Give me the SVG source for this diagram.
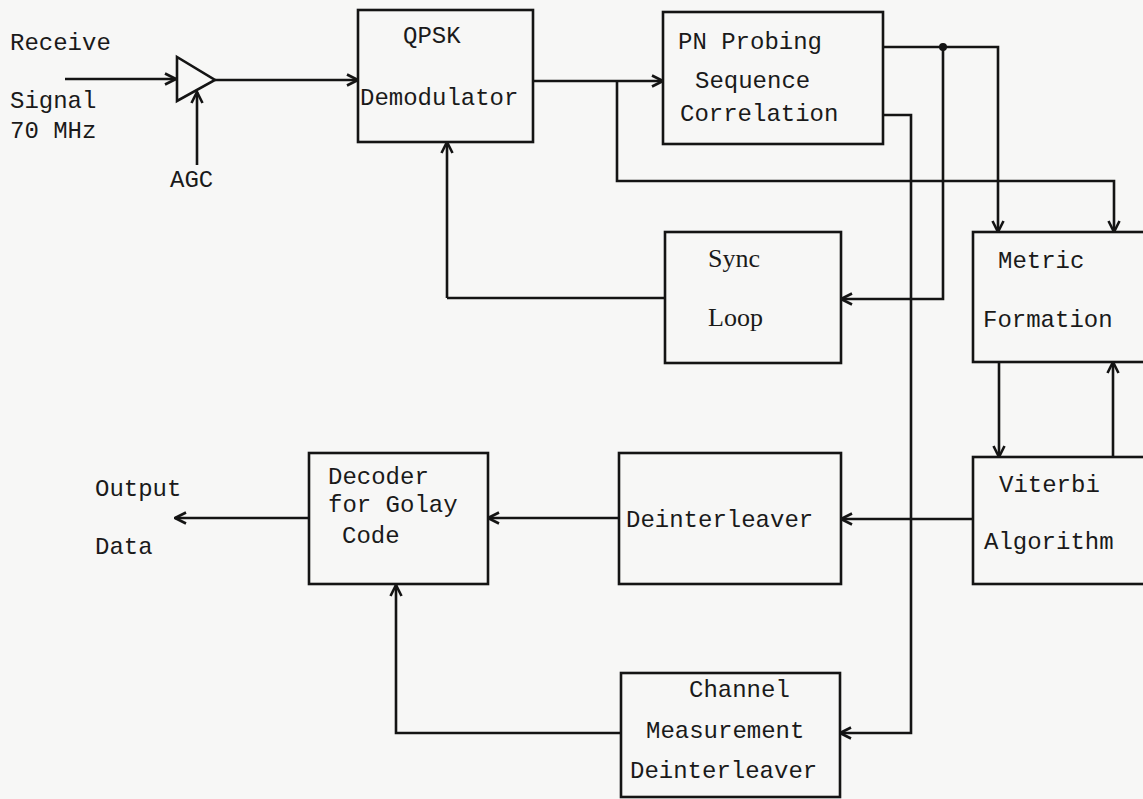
<svg xmlns="http://www.w3.org/2000/svg" width="1143" height="799" viewBox="0 0 1143 799">
<style>
.box{fill:none;stroke:#141414;stroke-width:2.6}
.ln{fill:none;stroke:#141414;stroke-width:2.6;stroke-linejoin:miter}
.t{font-family:"Liberation Mono","Courier New",monospace;font-size:24px;fill:#1a1a1a}
.s{font-family:"Liberation Serif","Times New Roman",serif;font-size:26px;fill:#1a1a1a}
</style>
<defs>
<marker id="arr" viewBox="0 0 14 14" refX="13" refY="7" markerWidth="14" markerHeight="14" orient="auto" markerUnits="userSpaceOnUse">
<path d="M2,1.5 L13,7 L2,12.5" fill="none" stroke="#141414" stroke-width="2.6"/>
</marker>
</defs>
<rect x="0" y="0" width="1143" height="799" fill="#f7f7f6"/>

<g id="labels">
<text class="t" x="10" y="50">Receive</text>
<text class="t" x="10" y="108">Signal</text>
<text class="t" x="10" y="138">70 MHz</text>
<text class="t" x="170" y="187">AGC</text>
<text class="t" x="95" y="496">Output</text>
<text class="t" x="95" y="554">Data</text>
</g>

<g id="amplifier">
<polygon points="177,57 177,101 215,80" class="box"/>
</g>

<g id="qpsk">
<rect class="box" x="358" y="10" width="175" height="132"/>
<text class="t" x="403" y="43">QPSK</text>
<text class="t" x="360" y="105">Demodulator</text>
</g>

<g id="pn">
<rect class="box" x="663" y="12" width="220" height="132"/>
<text class="t" x="678" y="49">PN Probing</text>
<text class="t" x="695" y="88">Sequence</text>
<text class="t" x="680" y="121">Correlation</text>
</g>

<g id="sync">
<rect class="box" x="665" y="232" width="176" height="131"/>
<text class="s" x="708" y="267">Sync</text>
<text class="s" x="708" y="326">Loop</text>
</g>

<g id="metric">
<rect class="box" x="973" y="232" width="190" height="130"/>
<text class="t" x="998" y="268">Metric</text>
<text class="t" x="983" y="327">Formation</text>
</g>

<g id="viterbi">
<rect class="box" x="973" y="457" width="190" height="127"/>
<text class="t" x="999" y="492">Viterbi</text>
<text class="t" x="984" y="549">Algorithm</text>
</g>

<g id="deinterleaver">
<rect class="box" x="619" y="453" width="222" height="131"/>
<text class="t" x="626" y="527">Deinterleaver</text>
</g>

<g id="decoder">
<rect class="box" x="309" y="453" width="179" height="131"/>
<text class="t" x="328" y="484">Decoder</text>
<text class="t" x="328" y="512">for Golay</text>
<text class="t" x="342" y="543">Code</text>
</g>

<g id="channel">
<rect class="box" x="621" y="673" width="219" height="124"/>
<text class="t" x="689" y="697">Channel</text>
<text class="t" x="646" y="738">Measurement</text>
<text class="t" x="630" y="778">Deinterleaver</text>
</g>

<g id="connectors">
<path class="ln" d="M65,79 H176" marker-end="url(#arr)"/>
<path class="ln" d="M215,80 H358" marker-end="url(#arr)"/>
<path class="ln" d="M197,165 V92" marker-end="url(#arr)"/>
<path class="ln" d="M533,81 H663" marker-end="url(#arr)"/>
<path class="ln" d="M617,81 V181 H1114 V232" marker-end="url(#arr)"/>
<path class="ln" d="M883,47 H998 V232" marker-end="url(#arr)"/>
<circle cx="943" cy="47" r="4" fill="#141414"/>
<path class="ln" d="M943,47 V299 H841" marker-end="url(#arr)"/>
<path class="ln" d="M883,115 H911 V733 H840" marker-end="url(#arr)"/>
<path class="ln" d="M999,362 V457" marker-end="url(#arr)"/>
<path class="ln" d="M1113,457 V362" marker-end="url(#arr)"/>
<path class="ln" d="M973,519 H841" marker-end="url(#arr)"/>
<path class="ln" d="M619,518 H488" marker-end="url(#arr)"/>
<path class="ln" d="M309,518 H175" marker-end="url(#arr)"/>
<path class="ln" d="M621,733 H396 V585" marker-end="url(#arr)"/>
<path class="ln" d="M447,298 H665"/>
<path class="ln" d="M447,298 V142" marker-end="url(#arr)"/>
</g>
</svg>
